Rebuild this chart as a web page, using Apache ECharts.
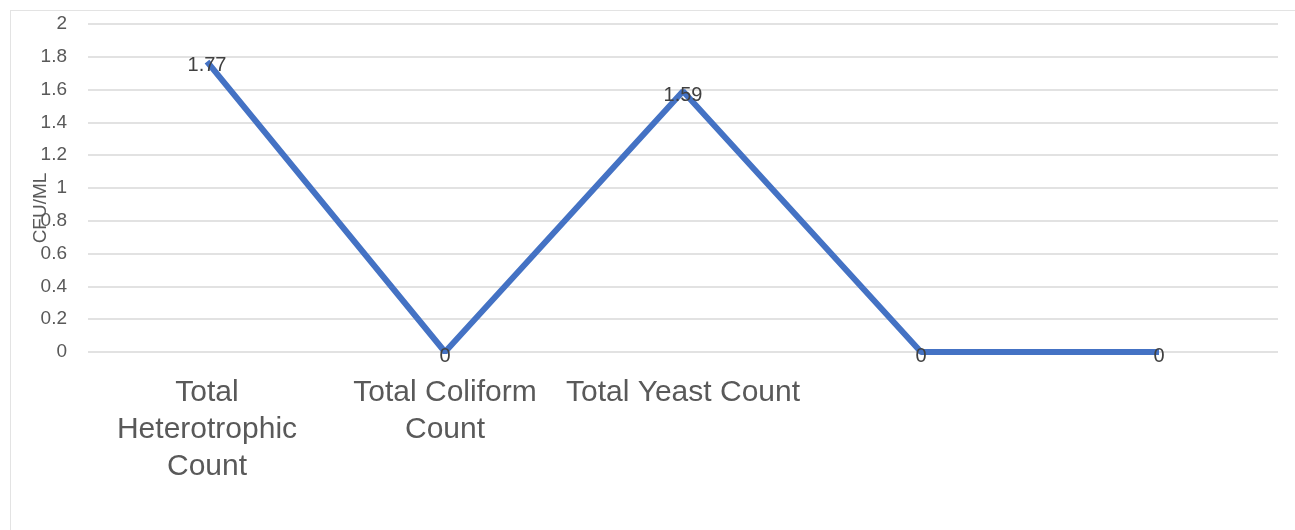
<!DOCTYPE html>
<html>
<head>
<meta charset="utf-8">
<script src="https://cdn.jsdelivr.net/npm/echarts@6/dist/echarts.min.js"></script>
<style>
  html, body { margin: 0; padding: 0; background: #fff; }
  #frame { position: absolute; left: 10px; top: 10px; width: 1285px; height: 520px;
           border-top: 1px solid #e3e3e3; border-left: 1px solid #e3e3e3; }
  #chart { position: absolute; left: 0; top: 0; width: 1295px; height: 530px; }
</style>
</head>
<body>
<div id="frame"></div>
<div id="chart"></div>
<script>
// 类别
var categories = ['Total\nHeterotrophic\nCount', 'Total Coliform\nCount', 'Total Yeast Count', '', ''];
// 数值 (CFU/ML)
var counts = [1.77, 0, 1.59, 0, 0];
// 纵轴刻度
var yMin = 0, yMax = 2, yStep = 0.2;

var chart = echarts.init(document.getElementById('chart'));
var option = {
    animation: false,
    grid: { left: 88, right: 17, top: 24, bottom: 178 },
    xAxis: {
        type: 'category',
        data: categories,
        boundaryGap: true,
        axisLine: { show: false },
        axisTick: { show: false },
        axisLabel: {
            interval: 0,
            margin: 22,
            fontFamily: 'Liberation Sans, sans-serif',
            fontSize: 30,
            lineHeight: 37,
            color: '#595959'
        }
    },
    yAxis: {
        type: 'value',
        min: yMin, max: yMax, interval: yStep,
        name: 'CFU/ML',
        nameLocation: 'middle',
        nameGap: 38,
        nameMoveOverlap: false,
        nameRotate: 90,
        nameTextStyle: { fontFamily: 'Liberation Sans, sans-serif', fontSize: 19, color: '#595959', padding: [0, 40, 0, 0] },
        axisLabel: {
            margin: 21,
            fontFamily: 'Liberation Sans, sans-serif',
            fontSize: 19,
            color: '#595959',
            formatter: function (v) { return String(Math.round(v * 10) / 10); }
        },
        axisLine: { show: false },
        axisTick: { show: false },
        splitLine: { lineStyle: { color: '#d9d9d9', width: 1.5 } }
    },
    series: [{
        type: 'line',
        data: counts,
        symbol: 'circle',
        symbolSize: 0,
        itemStyle: { color: '#4472C4' },
        lineStyle: { color: '#4472C4', width: 6 },
        label: {
            show: true,
            position: 'top',
            distance: -14,
            fontFamily: 'Liberation Sans, sans-serif',
            fontSize: 20,
            color: '#404040'
        }
    }]
};
chart.setOption(option);
</script>
</body>
</html>
